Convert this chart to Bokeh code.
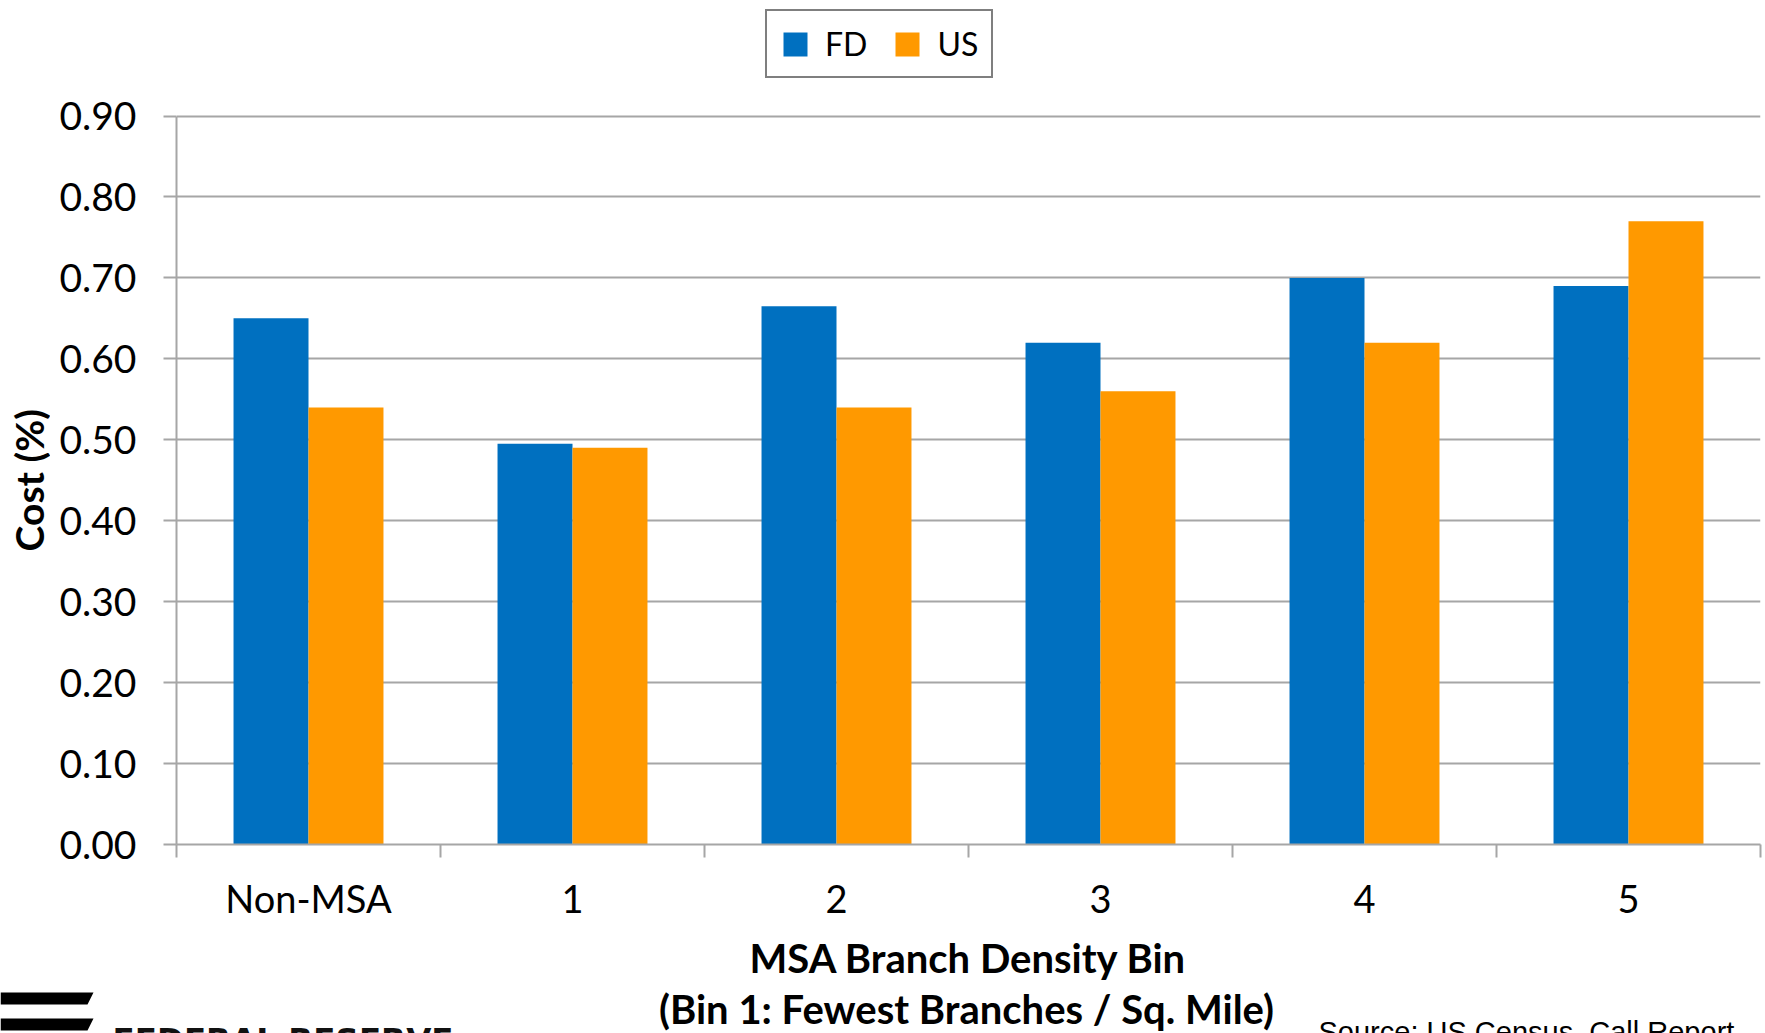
import math
from bokeh.plotting import figure
from bokeh.layouts import column, row
from bokeh.models import (Range1d, FixedTicker, NumeralTickFormatter, ColumnDataSource,
                          Legend, LegendItem)
from bokeh.transform import dodge
from bokeh.core.properties import value
from bokeh.embed import file_html
from bokeh.resources import INLINE

# ---- data ----
categories = ["Non-MSA", "1", "2", "3", "4", "5"]
fd_values = [0.65, 0.495, 0.665, 0.62, 0.70, 0.69]
us_values = [0.54, 0.49, 0.54, 0.56, 0.62, 0.77]
y_ticks = [0.0, 0.1, 0.2, 0.3, 0.4, 0.5, 0.6, 0.7, 0.8, 0.9]
series_names = ["FD", "US"]
x_title_1 = "MSA Branch Density Bin"
x_title_2 = "(Bin 1: Fewest Branches / Sq. Mile)"
y_title = "Cost (%)"
source_note = "Source: US Census, Call Report"
logo_text = "FEDERAL RESERVE"

FD_COLOR = "#0070C0"
US_COLOR = "#FF9900"
GRID = "#A6A6A6"
FONT = "Lato"

W = 1765
H = 1033
LEFT_W = 50
MAIN_H = 935
STRIP_H = H - MAIN_H
FRAME_LEFT = 176        # pixel column of the value axis
FRAME_BOTTOM = 844      # pixel row of the value 0
TOP_PAD = 115.5         # pixel row of the top tick

n = len(categories)
centers = [i + 0.5 for i in range(n)]
src = ColumnDataSource(dict(x=centers, fd=fd_values, us=us_values))

y_top = y_ticks[-1] * FRAME_BOTTOM / (FRAME_BOTTOM - TOP_PAD)
p = figure(width=W - LEFT_W, height=MAIN_H,
           x_range=Range1d(0, n), y_range=Range1d(0, y_top),
           output_backend="svg", toolbar_location=None,
           min_border_left=FRAME_LEFT - LEFT_W, min_border_right=5,
           min_border_top=0, min_border_bottom=MAIN_H - FRAME_BOTTOM)
p.frame_align = False
p.outline_line_color = None
p.background_fill_color = "white"
p.border_fill_color = "white"

bw = 0.284
r1 = p.vbar(x=dodge("x", -bw / 2), top="fd", width=bw, source=src,
            fill_color=FD_COLOR, line_color=None)
r2 = p.vbar(x=dodge("x", bw / 2), top="us", width=bw, source=src,
            fill_color=US_COLOR, line_color=None)

# x axis: labels at category centres, ticks at boundaries
xa = p.xaxis[0]
xa.ticker = FixedTicker(ticks=centers, minor_ticks=list(range(n + 1)))
xa.major_label_overrides = {c: lab for c, lab in zip(centers, categories)}
xa.major_tick_line_color = None
xa.major_tick_out = 0
xa.major_tick_in = 0
xa.minor_tick_out = 13
xa.minor_tick_in = 0
xa.minor_tick_line_color = GRID
xa.minor_tick_line_width = 2
xa.axis_line_color = GRID
xa.axis_line_width = 2
xa.major_label_text_font = FONT
xa.major_label_text_font_size = "38px"
xa.major_label_text_color = "black"
xa.major_label_standoff = 17

ya = p.yaxis[0]
ya.ticker = FixedTicker(ticks=y_ticks)
ya.bounds = (y_ticks[0], y_ticks[-1])
ya.formatter = NumeralTickFormatter(format="0.00")
ya.major_tick_out = 13
ya.major_tick_in = 0
ya.major_tick_line_color = GRID
ya.major_tick_line_width = 2
ya.minor_tick_line_color = None
ya.axis_line_color = GRID
ya.axis_line_width = 2
ya.major_label_text_font = FONT
ya.major_label_text_font_size = "39px"
ya.major_label_text_color = "black"
ya.major_label_standoff = 27

p.xgrid.grid_line_color = None
p.ygrid.ticker = FixedTicker(ticks=y_ticks)
p.ygrid.grid_line_color = GRID
p.ygrid.grid_line_width = 2

legend = Legend(items=[LegendItem(label=series_names[0], renderers=[r1]),
                       LegendItem(label=series_names[1], renderers=[r2])],
                orientation="horizontal", location=(589, 766),
                border_line_color="black", border_line_width=2,
                background_fill_color="white", background_fill_alpha=1,
                padding=13, spacing=25, label_standoff=15, margin=0,
                glyph_width=30, glyph_height=30,
                label_text_font=FONT, label_text_font_size="32px",
                label_text_color="black")
p.add_layout(legend)


def blank(width, height, x0, y0):
    f = figure(width=width, height=height,
               x_range=Range1d(x0, x0 + width), y_range=Range1d(y0 + height, y0),
               output_backend="svg", toolbar_location=None,
               x_axis_location=None, y_axis_location=None, min_border=0)
    f.frame_align = False
    f.outline_line_color = None
    f.grid.grid_line_color = None
    f.background_fill_color = "white"
    f.border_fill_color = "white"
    return f


# ---- left strip: value-axis title (pixel coordinates) ----
pl = blank(LEFT_W, MAIN_H, 0, 0)
pl.text(x=[28], y=[(TOP_PAD + FRAME_BOTTOM) / 2], text=[y_title], angle=math.pi / 2,
        text_align="center", text_baseline="middle",
        text_font=value(FONT), text_font_style="bold",
        text_font_size="39px", text_color="black")

# ---- bottom strip: axis title, source note and logo (pixel coordinates) ----
p2 = blank(W, STRIP_H, 0, MAIN_H)
p2.text(x=[968, 966], y=[957, 1008], text=[x_title_1, x_title_2],
        text_align="center", text_baseline="alphabetic",
        text_font=value(FONT), text_font_style="bold",
        text_font_size="40px", text_color="black")
p2.text(x=[1318], y=[1031], text=[source_note], text_align="left",
        text_baseline="alphabetic", text_font=value("Liberation Sans"),
        text_font_size="29px", text_color="black")
p2.text(x=[112], y=[1039], text=[logo_text], text_align="left",
        text_baseline="alphabetic", text_font=value("DejaVu Sans"),
        text_font_style="bold", text_font_size="32.5px", text_color="#111111")
p2.patches(xs=[[0, 93, 87, 0], [0, 93, 87, 0]],
           ys=[[992, 992, 1004, 1004], [1018, 1018, 1030, 1030]],
           fill_color="black", line_color=None)

layout = column(row(pl, p, spacing=0), p2, spacing=0)
open("out.html", "w").write(file_html(layout, INLINE))
